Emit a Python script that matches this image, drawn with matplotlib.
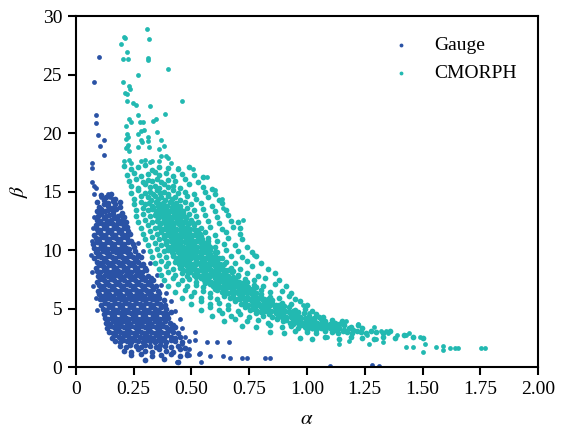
import numpy as np
import matplotlib
matplotlib.use("Agg")
import matplotlib.pyplot as plt

## alpha / beta pairs, Gauge series
## dense cloud, roughly row by row from the top down
gauge_core = [
    (0.11,14.7),(0.13,14.5),(0.15,14.8),(0.17,14.4),
    (0.09,14.1),(0.12,14.3),(0.14,14.0),(0.16,14.2),(0.19,14.1),
    (0.10,13.7),(0.12,13.9),(0.14,13.8),(0.155,13.6),(0.17,13.9),(0.19,13.7),
    (0.09,13.3),(0.11,13.5),(0.125,13.3),(0.14,13.4),(0.16,13.3),(0.175,13.5),(0.20,13.2),
    (0.095,12.9),(0.11,13.1),(0.13,12.9),(0.145,13.0),(0.16,13.1),(0.18,12.9),(0.195,13.0),(0.21,12.8),
    (0.09,12.6),(0.105,12.5),(0.12,12.7),(0.135,12.5),(0.15,12.6),(0.165,12.7),(0.18,12.5),(0.20,12.6),(0.215,12.4),
    (0.085,12.1),(0.10,12.3),(0.115,12.2),(0.13,12.1),(0.145,12.3),(0.16,12.2),(0.175,12.1),(0.19,12.3),(0.205,12.2),(0.22,12.0),
    (0.09,11.8),(0.105,11.7),(0.12,11.9),(0.135,11.8),(0.15,11.7),(0.165,11.9),(0.18,11.8),(0.195,11.7),(0.21,11.9),(0.225,11.6),
    (0.08,11.3),(0.095,11.5),(0.11,11.4),(0.125,11.3),(0.14,11.5),(0.155,11.4),(0.17,11.3),(0.185,11.5),(0.20,11.4),(0.215,11.3),(0.235,11.4),
    (0.085,11.0),(0.10,10.9),(0.115,11.1),(0.13,11.0),(0.145,10.9),(0.16,11.1),(0.175,11.0),(0.19,10.9),(0.205,11.1),(0.22,11.0),(0.24,10.8),
    (0.075,10.5),(0.09,10.7),(0.105,10.6),(0.12,10.5),(0.135,10.7),(0.15,10.6),(0.165,10.5),(0.18,10.7),(0.195,10.6),(0.21,10.5),(0.225,10.7),(0.245,10.5),
    (0.08,10.2),(0.095,10.1),(0.11,10.3),(0.125,10.2),(0.14,10.1),(0.155,10.3),(0.17,10.2),(0.185,10.1),(0.20,10.3),(0.215,10.2),(0.23,10.1),(0.25,10.3),
    (0.085,9.8),(0.10,9.7),(0.115,9.9),(0.13,9.8),(0.145,9.7),(0.16,9.9),(0.175,9.8),(0.19,9.7),(0.205,9.9),(0.22,9.8),(0.235,9.7),(0.255,9.9),(0.27,9.6),
    (0.08,9.3),(0.095,9.5),(0.11,9.4),(0.125,9.3),(0.14,9.5),(0.155,9.4),(0.17,9.3),(0.185,9.5),(0.20,9.4),(0.215,9.3),(0.23,9.5),(0.245,9.4),(0.26,9.3),(0.28,9.4),
    (0.09,9.0),(0.105,8.9),(0.12,9.1),(0.135,9.0),(0.15,8.9),(0.165,9.1),(0.18,9.0),(0.195,8.9),(0.21,9.1),(0.225,9.0),(0.24,8.9),(0.255,9.1),(0.27,9.0),(0.29,8.8),
    (0.085,8.5),(0.10,8.7),(0.115,8.6),(0.13,8.5),(0.145,8.7),(0.16,8.6),(0.175,8.5),(0.19,8.7),(0.205,8.6),(0.22,8.5),(0.235,8.7),(0.25,8.6),(0.265,8.5),(0.28,8.7),(0.30,8.5),
    (0.09,8.2),(0.105,8.1),(0.12,8.3),(0.135,8.2),(0.15,8.1),(0.165,8.3),(0.18,8.2),(0.195,8.1),(0.21,8.3),(0.225,8.2),(0.24,8.1),(0.255,8.3),(0.27,8.2),(0.285,8.1),(0.305,8.3),
    (0.095,7.8),(0.11,7.7),(0.125,7.9),(0.14,7.8),(0.155,7.7),(0.17,7.9),(0.185,7.8),(0.20,7.7),(0.215,7.9),(0.23,7.8),(0.245,7.7),(0.26,7.9),(0.275,7.8),(0.29,7.7),(0.31,7.8),(0.325,7.6),
    (0.09,7.3),(0.105,7.5),(0.12,7.4),(0.135,7.3),(0.15,7.5),(0.165,7.4),(0.18,7.3),(0.195,7.5),(0.21,7.4),(0.225,7.3),(0.24,7.5),(0.255,7.4),(0.27,7.3),(0.285,7.5),(0.30,7.4),(0.315,7.3),(0.335,7.4),
    (0.10,7.0),(0.115,6.9),(0.13,7.1),(0.145,7.0),(0.16,6.9),(0.175,7.1),(0.19,7.0),(0.205,6.9),(0.22,7.1),(0.235,7.0),(0.25,6.9),(0.265,7.1),(0.28,7.0),(0.295,6.9),(0.31,7.1),(0.325,7.0),(0.345,6.9),
    (0.095,6.5),(0.11,6.7),(0.125,6.6),(0.14,6.5),(0.155,6.7),(0.17,6.6),(0.185,6.5),(0.20,6.7),(0.215,6.6),(0.23,6.5),(0.245,6.7),(0.26,6.6),(0.275,6.5),(0.29,6.7),(0.305,6.6),(0.32,6.5),(0.335,6.7),(0.355,6.5),
    (0.10,6.2),(0.115,6.1),(0.13,6.3),(0.145,6.2),(0.16,6.1),(0.175,6.3),(0.19,6.2),(0.205,6.1),(0.22,6.3),(0.235,6.2),(0.25,6.1),(0.265,6.3),(0.28,6.2),(0.295,6.1),(0.31,6.3),(0.325,6.2),(0.34,6.1),(0.36,6.3),
    (0.105,5.8),(0.12,5.7),(0.135,5.9),(0.15,5.8),(0.165,5.7),(0.18,5.9),(0.195,5.8),(0.21,5.7),(0.225,5.9),(0.24,5.8),(0.255,5.7),(0.27,5.9),(0.285,5.8),(0.30,5.7),(0.315,5.9),(0.33,5.8),(0.345,5.7),(0.36,5.9),(0.38,5.7),
    (0.11,5.3),(0.125,5.5),(0.14,5.4),(0.155,5.3),(0.17,5.5),(0.185,5.4),(0.20,5.3),(0.215,5.5),(0.23,5.4),(0.245,5.3),(0.26,5.5),(0.275,5.4),(0.29,5.3),(0.305,5.5),(0.32,5.4),(0.335,5.3),(0.35,5.5),(0.365,5.4),(0.385,5.3),
    (0.115,5.0),(0.13,4.9),(0.145,5.1),(0.16,5.0),(0.175,4.9),(0.19,5.1),(0.205,5.0),(0.22,4.9),(0.235,5.1),(0.25,5.0),(0.265,4.9),(0.28,5.1),(0.295,5.0),(0.31,4.9),(0.325,5.1),(0.34,5.0),(0.355,4.9),(0.37,5.1),(0.39,5.0),
    (0.12,4.5),(0.135,4.7),(0.15,4.6),(0.165,4.5),(0.18,4.7),(0.195,4.6),(0.21,4.5),(0.225,4.7),(0.24,4.6),(0.255,4.5),(0.27,4.7),(0.285,4.6),(0.30,4.5),(0.315,4.7),(0.33,4.6),(0.345,4.5),(0.36,4.7),(0.375,4.6),(0.395,4.5),(0.41,4.7),
    (0.125,4.2),(0.14,4.1),(0.155,4.3),(0.17,4.2),(0.185,4.1),(0.20,4.3),(0.215,4.2),(0.23,4.1),(0.245,4.3),(0.26,4.2),(0.275,4.1),(0.29,4.3),(0.305,4.2),(0.32,4.1),(0.335,4.3),(0.35,4.2),(0.365,4.1),(0.38,4.3),(0.40,4.2),
    (0.13,3.8),(0.145,3.7),(0.16,3.9),(0.175,3.8),(0.19,3.7),(0.205,3.9),(0.22,3.8),(0.235,3.7),(0.25,3.9),(0.265,3.8),(0.28,3.7),(0.295,3.9),(0.31,3.8),(0.325,3.7),(0.34,3.9),(0.355,3.8),(0.37,3.7),(0.385,3.9),(0.405,3.8),(0.42,3.6),
    (0.135,3.3),(0.15,3.5),(0.165,3.4),(0.18,3.3),(0.195,3.5),(0.21,3.4),(0.225,3.3),(0.24,3.5),(0.255,3.4),(0.27,3.3),(0.285,3.5),(0.30,3.4),(0.315,3.3),(0.33,3.5),(0.345,3.4),(0.36,3.3),(0.375,3.5),(0.39,3.4),(0.41,3.3),(0.43,3.4),
    (0.145,3.0),(0.16,2.9),(0.175,3.1),(0.19,3.0),(0.205,2.9),(0.22,3.1),(0.235,3.0),(0.25,2.9),(0.265,3.1),(0.28,3.0),(0.295,2.9),(0.31,3.1),(0.325,3.0),(0.34,2.9),(0.355,3.1),(0.37,3.0),(0.385,2.9),(0.40,3.1),(0.42,3.0),(0.44,2.9),
    (0.155,2.5),(0.17,2.7),(0.185,2.6),(0.20,2.5),(0.215,2.7),(0.23,2.6),(0.245,2.5),(0.26,2.7),(0.275,2.6),(0.29,2.5),(0.305,2.7),(0.32,2.6),(0.335,2.5),(0.35,2.7),(0.365,2.6),(0.38,2.5),(0.395,2.7),(0.41,2.6),(0.43,2.5),(0.45,2.6),
    (0.17,2.2),(0.19,2.1),(0.205,2.3),(0.22,2.2),(0.24,2.1),(0.255,2.3),(0.27,2.2),(0.29,2.1),(0.305,2.3),(0.32,2.2),(0.34,2.1),(0.355,2.3),(0.37,2.2),(0.39,2.1),(0.41,2.3),(0.43,2.2),(0.46,2.1),
    (0.19,1.8),(0.215,1.7),(0.235,1.9),(0.26,1.8),(0.28,1.7),(0.30,1.9),(0.32,1.8),(0.345,1.7),(0.365,1.9),(0.385,1.8),(0.41,1.7),(0.44,1.8),(0.47,1.6),
    (0.21,1.4),(0.24,1.3),(0.27,1.5),(0.30,1.4),(0.33,1.3),(0.36,1.5),(0.39,1.4),(0.42,1.3),(0.45,1.5),
    (0.24,1.0),(0.28,1.1),(0.33,0.9),(0.37,1.0),(0.41,1.1),(0.45,0.9),(0.48,1.0),
    (0.30,0.6),(0.38,0.7),(0.44,0.45),
]

## Gauge points lying away from the cloud
gauge_sparse = [
    (0.10,26.5),(0.079,24.4),(0.085,21.5),(0.085,20.85),(0.095,19.8),(0.123,19.4),
    (0.105,18.9),(0.123,18.1),(0.071,17.4),(0.071,17.0),(0.068,15.8),(0.079,15.5),
    (0.085,15.3),(0.079,14.8),(0.108,14.5),(0.137,14.8),(0.147,14.5),(0.16,14.4),
    (0.07,10.8),(0.065,9.6),(0.07,8.1),(0.075,6.9),(0.08,12.8),(0.075,11.9),(0.085,5.9),(0.09,4.9),
    (0.27,10.6),(0.29,9.9),(0.32,8.9),(0.35,7.9),(0.37,7.0),(0.39,6.3),(0.41,5.6),
    (0.43,4.8),(0.45,4.1),(0.46,3.3),(0.47,2.6),(0.49,2.2),(0.49,1.5),
    (0.515,3.0),(0.515,2.3),(0.566,2.1),(0.61,2.1),(0.664,2.1),(0.537,1.17),(0.534,1.1),
    (0.58,0.9),(0.54,0.4),(0.638,0.97),(0.667,0.8),(0.717,0.74),(0.74,0.74),(0.82,0.8),
    (0.84,0.74),(1.10,0.1),(1.28,0.2),(1.31,0.1),(0.46,2.0),(0.48,1.2),(0.49,1.0),(0.436,0.45),
]

## CMORPH series, band row by row from the top down
cmorph_core = [
    (0.21,17.2),(0.24,16.9),(0.27,17.1),(0.30,17.3),(0.33,16.8),(0.36,17.1),(0.40,17.0),(0.44,16.9),(0.49,17.1),
    (0.22,16.4),(0.25,16.6),(0.28,16.3),(0.31,16.5),(0.34,16.7),(0.36,16.4),(0.39,16.6),(0.42,16.3),(0.46,16.5),(0.51,16.4),(0.55,16.2),
    (0.23,15.9),(0.26,16.1),(0.29,15.8),(0.31,16.0),(0.33,15.9),(0.35,16.1),(0.37,15.8),(0.40,16.0),(0.43,15.9),(0.47,16.1),(0.53,15.8),
    (0.24,15.5),(0.27,15.3),(0.30,15.6),(0.32,15.4),(0.34,15.5),(0.36,15.3),(0.38,15.6),(0.40,15.4),(0.42,15.5),(0.45,15.3),(0.49,15.6),(0.55,15.4),(0.59,15.2),
    (0.24,14.9),(0.27,15.1),(0.30,14.9),(0.32,15.0),(0.335,14.8),(0.35,15.1),(0.365,14.9),(0.38,15.0),(0.40,14.8),(0.42,15.1),(0.44,14.9),(0.47,15.0),(0.51,14.8),(0.56,15.0),(0.60,14.8),
    (0.25,14.4),(0.28,14.6),(0.31,14.5),(0.325,14.3),(0.34,14.6),(0.355,14.4),(0.37,14.5),(0.385,14.3),(0.40,14.6),(0.415,14.4),(0.43,14.5),(0.45,14.3),(0.48,14.6),(0.52,14.4),(0.57,14.5),(0.62,14.3),
    (0.25,13.9),(0.28,14.1),(0.30,13.9),(0.315,14.0),(0.33,13.8),(0.345,14.1),(0.36,13.9),(0.375,14.0),(0.39,13.8),(0.405,14.1),(0.42,13.9),(0.435,14.0),(0.45,13.8),(0.47,14.1),(0.50,13.9),(0.54,14.0),(0.59,13.8),(0.63,14.0),
    (0.26,13.4),(0.29,13.6),(0.31,13.4),(0.33,13.5),(0.345,13.3),(0.36,13.6),(0.375,13.4),(0.39,13.5),(0.405,13.3),(0.42,13.6),(0.435,13.4),(0.45,13.5),(0.465,13.3),(0.48,13.6),(0.51,13.4),(0.55,13.5),(0.60,13.3),(0.65,13.4),
    (0.26,12.9),(0.29,13.1),(0.32,12.9),(0.34,13.0),(0.355,12.8),(0.37,13.1),(0.385,12.9),(0.40,13.0),(0.415,12.8),(0.43,13.1),(0.445,12.9),(0.46,13.0),(0.475,12.8),(0.49,13.1),(0.52,12.9),(0.56,13.0),(0.61,12.8),(0.66,13.0),
    (0.27,12.4),(0.30,12.6),(0.33,12.4),(0.35,12.5),(0.365,12.3),(0.38,12.6),(0.395,12.4),(0.41,12.5),(0.425,12.3),(0.44,12.6),(0.455,12.4),(0.47,12.5),(0.485,12.3),(0.50,12.6),(0.53,12.4),(0.57,12.5),(0.62,12.3),(0.67,12.5),(0.70,12.4),
    (0.28,11.9),(0.31,12.1),(0.34,11.9),(0.36,12.0),(0.375,11.8),(0.39,12.1),(0.405,11.9),(0.42,12.0),(0.435,11.8),(0.45,12.1),(0.465,11.9),(0.48,12.0),(0.495,11.8),(0.51,12.1),(0.54,11.9),(0.58,12.0),(0.63,11.8),(0.68,12.0),(0.71,11.9),
    (0.29,11.4),(0.32,11.6),(0.35,11.4),(0.37,11.5),(0.385,11.3),(0.40,11.6),(0.415,11.4),(0.43,11.5),(0.445,11.3),(0.46,11.6),(0.475,11.4),(0.49,11.5),(0.505,11.3),(0.52,11.6),(0.535,11.4),(0.56,11.5),(0.60,11.3),(0.65,11.5),(0.71,11.4),
    (0.30,10.9),(0.33,11.1),(0.36,10.9),(0.38,11.0),(0.395,10.8),(0.41,11.1),(0.425,10.9),(0.44,11.0),(0.455,10.8),(0.47,11.1),(0.485,10.9),(0.50,11.0),(0.515,10.8),(0.53,11.1),(0.545,10.9),(0.57,11.0),(0.61,10.8),(0.66,11.0),(0.72,10.9),
    (0.31,10.4),(0.34,10.6),(0.37,10.4),(0.39,10.5),(0.405,10.3),(0.42,10.6),(0.435,10.4),(0.45,10.5),(0.465,10.3),(0.48,10.6),(0.495,10.4),(0.51,10.5),(0.525,10.3),(0.54,10.6),(0.555,10.4),(0.57,10.5),(0.60,10.3),(0.64,10.5),(0.69,10.4),(0.74,10.3),
    (0.32,9.9),(0.35,10.1),(0.38,9.9),(0.40,10.0),(0.415,9.8),(0.43,10.1),(0.445,9.9),(0.46,10.0),(0.475,9.8),(0.49,10.1),(0.505,9.9),(0.52,10.0),(0.535,9.8),(0.55,10.1),(0.565,9.9),(0.58,10.0),(0.61,9.8),(0.65,10.0),(0.70,9.9),(0.76,9.8),
    (0.33,9.4),(0.36,9.6),(0.39,9.4),(0.42,9.5),(0.435,9.3),(0.45,9.6),(0.465,9.4),(0.48,9.5),(0.495,9.3),(0.51,9.6),(0.525,9.4),(0.54,9.5),(0.555,9.3),(0.57,9.6),(0.585,9.4),(0.60,9.5),(0.63,9.3),(0.67,9.5),(0.72,9.4),(0.78,9.5),
    (0.34,8.9),(0.37,9.1),(0.40,8.9),(0.43,9.0),(0.445,8.8),(0.46,9.1),(0.475,8.9),(0.49,9.0),(0.505,8.8),(0.52,9.1),(0.535,8.9),(0.55,9.0),(0.565,8.8),(0.58,9.1),(0.595,8.9),(0.61,9.0),(0.625,8.8),(0.65,9.0),(0.69,8.9),(0.74,9.1),(0.80,8.9),
    (0.36,8.4),(0.39,8.6),(0.42,8.4),(0.45,8.5),(0.465,8.3),(0.48,8.6),(0.495,8.4),(0.51,8.5),(0.525,8.3),(0.54,8.6),(0.555,8.4),(0.57,8.5),(0.585,8.3),(0.60,8.6),(0.615,8.4),(0.63,8.5),(0.645,8.3),(0.67,8.5),(0.71,8.4),(0.76,8.6),(0.83,8.4),
    (0.37,7.9),(0.40,8.1),(0.43,7.9),(0.46,8.0),(0.48,7.8),(0.495,8.1),(0.51,7.9),(0.525,8.0),(0.54,7.8),(0.555,8.1),(0.57,7.9),(0.585,8.0),(0.60,7.8),(0.615,8.1),(0.63,7.9),(0.645,8.0),(0.66,7.8),(0.675,8.1),(0.70,7.9),(0.74,8.0),(0.79,7.8),(0.86,8.0),
    (0.38,7.4),(0.42,7.6),(0.46,7.4),(0.49,7.5),(0.52,7.3),(0.54,7.6),(0.555,7.4),(0.57,7.5),(0.585,7.3),(0.60,7.6),(0.615,7.4),(0.63,7.5),(0.645,7.3),(0.66,7.6),(0.675,7.4),(0.69,7.5),(0.705,7.3),(0.73,7.5),(0.77,7.4),(0.82,7.6),(0.88,7.4),
    (0.40,6.9),(0.44,7.1),(0.48,6.9),(0.52,7.0),(0.55,6.8),(0.58,7.1),(0.595,6.9),(0.61,7.0),(0.625,6.8),(0.64,7.1),(0.655,6.9),(0.67,7.0),(0.685,6.8),(0.70,7.1),(0.715,6.9),(0.73,7.0),(0.745,6.8),(0.77,7.0),(0.81,6.9),(0.86,7.1),(0.91,6.9),
    (0.43,6.4),(0.47,6.6),(0.51,6.4),(0.55,6.5),(0.58,6.3),(0.61,6.6),(0.63,6.4),(0.645,6.5),(0.66,6.3),(0.675,6.6),(0.69,6.4),(0.705,6.5),(0.72,6.3),(0.735,6.6),(0.75,6.4),(0.765,6.5),(0.78,6.3),(0.80,6.6),(0.84,6.4),(0.89,6.5),(0.93,6.3),
    (0.46,5.9),(0.50,6.1),(0.54,5.9),(0.58,6.0),(0.61,5.8),(0.64,6.1),(0.665,5.9),(0.68,6.0),(0.695,5.8),(0.71,6.1),(0.725,5.9),(0.74,6.0),(0.755,5.8),(0.77,6.1),(0.785,5.9),(0.80,6.0),(0.815,5.8),(0.84,6.0),(0.88,5.9),(0.92,6.1),(0.95,5.8),
    (0.50,5.4),(0.54,5.6),(0.58,5.4),(0.62,5.5),(0.66,5.3),(0.69,5.6),(0.715,5.4),(0.73,5.5),(0.745,5.3),(0.76,5.6),(0.775,5.4),(0.79,5.5),(0.805,5.3),(0.82,5.6),(0.835,5.4),(0.85,5.5),(0.865,5.3),(0.89,5.5),(0.93,5.4),(0.97,5.6),(1.00,5.3),
    (0.54,4.9),(0.58,5.1),(0.62,4.9),(0.66,5.0),(0.70,4.8),(0.73,5.1),(0.755,4.9),(0.77,5.0),(0.785,4.8),(0.80,5.1),(0.815,4.9),(0.83,5.0),(0.845,4.8),(0.86,5.1),(0.875,4.9),(0.89,5.0),(0.905,4.8),(0.92,5.1),(0.95,4.9),(0.99,5.0),(1.02,4.8),
    (0.59,4.4),(0.63,4.6),(0.67,4.4),(0.71,4.5),(0.75,4.3),(0.78,4.6),(0.81,4.4),(0.835,4.5),(0.85,4.3),(0.865,4.6),(0.88,4.4),(0.895,4.5),(0.91,4.3),(0.925,4.6),(0.94,4.4),(0.955,4.5),(0.97,4.3),(0.985,4.6),(1.01,4.4),(1.04,4.5),(1.07,4.3),
    (0.64,3.9),(0.69,4.1),(0.74,3.9),(0.79,4.0),(0.83,3.8),(0.87,4.1),(0.895,3.9),(0.91,4.0),(0.925,3.8),(0.94,4.1),(0.955,3.9),(0.97,4.0),(0.985,3.8),(1.00,4.1),(1.015,3.9),(1.03,4.0),(1.045,3.8),(1.06,4.1),(1.08,3.9),(1.11,4.0),(1.15,3.9),
    (0.72,3.5),(0.78,3.4),(0.84,3.6),(0.89,3.4),(0.93,3.5),(0.96,3.3),(0.975,3.6),(0.99,3.4),(1.005,3.5),(1.02,3.3),(1.035,3.6),(1.05,3.4),(1.065,3.5),(1.08,3.3),(1.095,3.6),(1.11,3.4),(1.125,3.5),(1.14,3.3),(1.16,3.6),(1.19,3.4),(1.22,3.6),
    (0.84,3.0),(0.90,2.9),(0.95,3.1),(1.00,3.0),(1.04,2.9),(1.08,3.1),(1.11,3.0),(1.135,2.9),(1.155,3.1),(1.175,3.0),(1.195,2.9),(1.215,3.1),(1.235,3.0),(1.255,2.9),(1.275,3.1),(1.30,3.0),(1.33,2.9),(1.36,3.1),
    (0.97,2.5),(1.02,2.4),(1.08,2.6),(1.14,2.4),(1.19,2.6),(1.24,2.5),(1.29,2.4),(1.33,2.6),(1.38,2.5),(1.42,2.7),(1.46,2.6),(1.50,2.5),
]

## CMORPH, the packed middle of the band, read between the rows above
cmorph_dense = [
    (0.335,13.7),(0.355,13.8),(0.375,13.7),(0.395,13.8),(0.415,13.7),(0.435,13.8),
    (0.345,13.2),(0.365,13.3),(0.385,13.2),(0.405,13.3),(0.425,13.2),(0.445,13.3),(0.465,13.2),
    (0.355,12.7),(0.375,12.8),(0.395,12.7),(0.415,12.8),(0.435,12.7),(0.455,12.8),(0.475,12.7),
    (0.365,12.2),(0.385,12.3),(0.405,12.2),(0.425,12.3),(0.445,12.2),(0.465,12.3),(0.485,12.2),(0.505,12.3),
    (0.37,11.7),(0.39,11.8),(0.41,11.7),(0.43,11.8),(0.45,11.7),(0.47,11.8),(0.49,11.7),(0.51,11.8),(0.53,11.7),
    (0.38,11.2),(0.40,11.3),(0.42,11.2),(0.44,11.3),(0.46,11.2),(0.48,11.3),(0.50,11.2),(0.52,11.3),(0.54,11.2),
    (0.39,10.7),(0.41,10.8),(0.43,10.7),(0.45,10.8),(0.47,10.7),(0.49,10.8),(0.51,10.7),(0.53,10.8),(0.55,10.7),(0.57,10.8),
    (0.40,10.2),(0.42,10.3),(0.44,10.2),(0.46,10.3),(0.48,10.2),(0.50,10.3),(0.52,10.2),(0.54,10.3),(0.56,10.2),(0.58,10.3),
    (0.42,9.7),(0.44,9.8),(0.46,9.7),(0.48,9.8),(0.50,9.7),(0.52,9.8),(0.54,9.7),(0.56,9.8),(0.58,9.7),(0.60,9.8),
    (0.44,9.2),(0.46,9.3),(0.48,9.2),(0.50,9.3),(0.52,9.2),(0.54,9.3),(0.56,9.2),(0.58,9.3),(0.60,9.2),(0.62,9.3),
    (0.46,8.7),(0.48,8.8),(0.50,8.7),(0.52,8.8),(0.54,8.7),(0.56,8.8),(0.58,8.7),(0.60,8.8),(0.62,8.7),(0.64,8.8),
    (0.48,8.2),(0.50,8.3),(0.52,8.2),(0.54,8.3),(0.56,8.2),(0.58,8.3),(0.60,8.2),(0.62,8.3),(0.64,8.2),(0.66,8.3),(0.68,8.2),
    (0.52,7.7),(0.54,7.8),(0.56,7.7),(0.58,7.8),(0.60,7.7),(0.62,7.8),(0.64,7.7),(0.66,7.8),(0.68,7.7),(0.70,7.8),
    (0.56,7.2),(0.58,7.3),(0.60,7.2),(0.62,7.3),(0.64,7.2),(0.66,7.3),(0.68,7.2),(0.70,7.3),(0.72,7.2),(0.74,7.3),
    (0.60,6.7),(0.62,6.8),(0.64,6.7),(0.66,6.8),(0.68,6.7),(0.70,6.8),(0.72,6.7),(0.74,6.8),(0.76,6.7),(0.78,6.8),
    (0.64,6.2),(0.66,6.3),(0.68,6.2),(0.70,6.3),(0.72,6.2),(0.74,6.3),(0.76,6.2),(0.78,6.3),(0.80,6.2),
    (0.69,5.7),(0.71,5.8),(0.73,5.7),(0.75,5.8),(0.77,5.7),(0.79,5.8),(0.81,5.7),(0.83,5.8),(0.85,5.7),
    (0.74,5.2),(0.76,5.3),(0.78,5.2),(0.80,5.3),(0.82,5.2),(0.84,5.3),(0.86,5.2),(0.88,5.3),(0.90,5.2),
    (0.80,4.7),(0.82,4.8),(0.84,4.7),(0.86,4.8),(0.88,4.7),(0.90,4.8),(0.92,4.7),(0.94,4.8),(0.96,4.7),
    (0.87,4.2),(0.89,4.3),(0.91,4.2),(0.93,4.3),(0.95,4.2),(0.97,4.3),(0.99,4.2),(1.01,4.3),(1.03,4.2),(1.05,4.3),
    (0.94,3.7),(0.96,3.8),(0.98,3.7),(1.00,3.8),(1.02,3.7),(1.04,3.8),(1.06,3.7),(1.08,3.8),(1.10,3.7),(1.12,3.8),(1.14,3.7),
    (1.00,3.2),(1.02,3.3),(1.04,3.2),(1.06,3.3),(1.08,3.2),(1.10,3.3),(1.12,3.2),(1.14,3.3),(1.16,3.2),(1.18,3.3),(1.20,3.2),(1.24,3.3),
]

## CMORPH points off the band: the high-beta spray and the long tail
cmorph_sparse = [
    (0.306,28.9),(0.208,28.2),(0.214,28.1),(0.193,27.6),(0.315,28.0),(0.222,26.9),(0.203,26.3),
    (0.226,26.3),(0.31,26.2),(0.312,26.4),(0.398,25.5),(0.267,25.0),(0.205,24.4),(0.231,24.0),
    (0.235,23.8),(0.213,23.4),(0.22,23.3),(0.219,22.7),(0.247,22.6),(0.26,22.4),(0.459,22.7),
    (0.319,22.3),(0.267,21.5),(0.231,21.2),(0.236,20.9),(0.278,20.9),(0.29,20.9),(0.348,21.2),
    (0.332,21.0),(0.387,21.6),(0.215,20.6),(0.293,20.3),(0.35,20.1),(0.22,19.9),(0.225,19.7),
    (0.215,19.5),(0.27,19.9),(0.28,20.2),(0.313,19.7),(0.28,19.4),(0.285,19.2),(0.225,19.0),
    (0.22,18.8),(0.215,18.7),(0.23,18.5),(0.27,18.8),(0.317,18.8),(0.31,19.3),(0.37,19.4),
    (0.38,18.9),(0.36,18.6),(0.21,17.6),(0.23,17.7),(0.24,17.4),(0.28,17.6),(0.30,17.7),
    (0.32,17.5),(0.33,17.6),(0.37,18.0),(0.36,17.6),(0.39,18.0),(0.40,17.9),(0.41,17.4),
    (0.44,17.0),(0.508,16.9),(0.566,16.2),(0.60,15.1),(0.63,14.4),(0.638,13.6),(0.724,12.6),
    (0.71,11.4),(0.77,9.6),
    (0.984,5.3),(1.01,4.6),(1.11,4.0),(1.17,3.9),(1.22,3.7),(1.29,3.4),(1.32,3.1),(1.34,3.1),
    (1.26,2.7),(1.30,2.4),(1.33,2.1),(1.27,2.0),(1.18,2.2),(1.14,2.0),(1.085,2.6),(1.35,2.9),
    (1.39,2.7),(1.43,2.7),(1.44,2.9),(1.49,2.6),(1.51,2.0),(1.50,1.25),(1.46,1.7),(1.43,1.7),
    (1.56,1.7),(1.59,1.45),(1.59,1.8),(1.62,1.65),(1.64,1.6),(1.655,1.65),(1.755,1.65),(1.77,1.65),
]

x_ticks = [0, 0.25, 0.50, 0.75, 1.00, 1.25, 1.50, 1.75, 2.00]
x_tick_labels = ["0", "0.25", "0.50", "0.75", "1.00", "1.25", "1.50", "1.75", "2.00"]
y_ticks = [0, 5, 10, 15, 20, 25, 30]

gauge_in = np.array(gauge_core)
gauge_out = np.array(gauge_sparse)
cmorph_in = np.array(cmorph_core + cmorph_dense)
cmorph_out = np.array(cmorph_sparse)

gauge_col = '#2a52a5'
cmorph_col = '#22b9b1'

plt.rcParams['font.family'] = ['Liberation Serif', 'DejaVu Serif']
plt.rcParams['mathtext.fontset'] = 'stix'

fig = plt.figure(figsize=(5.73, 4.33), dpi=100)
ax = fig.add_axes([0.1326, 0.1524, 0.8064, 0.8106])

## bigger dots inside the clouds so they pack like the original
ax.scatter(gauge_out[:, 0], gauge_out[:, 1], s=12, color=gauge_col, linewidths=0, label='Gauge')
ax.scatter(cmorph_out[:, 0], cmorph_out[:, 1], s=12, color=cmorph_col, linewidths=0, label='CMORPH')
ax.scatter(gauge_in[:, 0], gauge_in[:, 1], s=17, color=gauge_col, linewidths=0)
ax.scatter(cmorph_in[:, 0], cmorph_in[:, 1], s=17, color=cmorph_col, linewidths=0)

ax.set_xlim(0, 2.0)
ax.set_ylim(0, 30)
ax.set_xticks(x_ticks)
ax.set_xticklabels(x_tick_labels)
ax.set_yticks(y_ticks)
ax.tick_params(axis='both', direction='out', length=6, width=1.5, labelsize=14, pad=4)
for spine in ax.spines.values():
    spine.set_linewidth(1.5)

ax.set_xlabel(r'$\alpha$', fontsize=15, labelpad=9)
ax.set_ylabel(r'$\beta$', fontsize=15, labelpad=9)

ax.legend(loc='upper left', bbox_to_anchor=(0.645, 0.965), frameon=False, fontsize=14,
          markerscale=0.8, handletextpad=0.7, labelspacing=0.55, borderaxespad=0)

fig.savefig('out.png', dpi=100)
